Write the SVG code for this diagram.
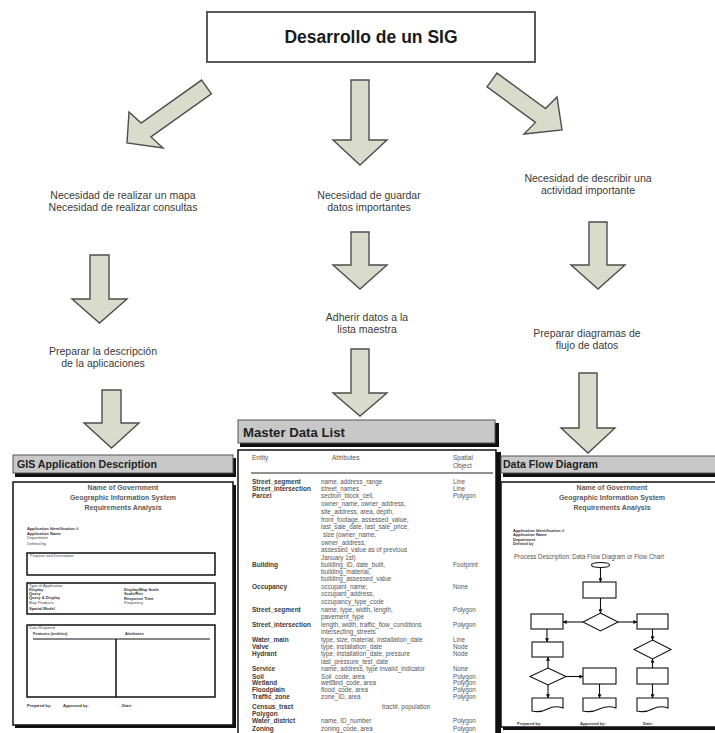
<svg xmlns="http://www.w3.org/2000/svg" width="715" height="733" viewBox="0 0 715 733">
  <style>
    .arrow { fill: #d9dccb; stroke: #4d4d4d; stroke-width: 1.4; stroke-linejoin: miter; }
    .lbl { font-family: "Liberation Sans", Arial, sans-serif; font-size: 10.5px; fill: #3a3a3a; text-anchor: middle; }
    .title { font-family: "Liberation Sans", Arial, sans-serif; font-size: 17.5px; font-weight: bold; fill: #1a1a1a; text-anchor: middle; }
    .hdr { fill: #c8c8c8; stroke: #555; stroke-width: 1; }
    .shadow { fill: #111; }
    .doc { fill: #fff; stroke: #111; stroke-width: 1.5; }
    .hdrtxt { font-family: "Liberation Sans", Arial, sans-serif; font-weight: bold; fill: #222; }
    .gov { font-family: "Liberation Sans", Arial, sans-serif; font-size: 7px; font-weight: bold; fill: #5a5a5a; text-anchor: middle; }
    .tiny { font-family: "Liberation Sans", Arial, sans-serif; font-size: 4px; fill: #444; }
    .tinyb { font-family: "Liberation Sans", Arial, sans-serif; font-size: 4px; font-weight: bold; fill: #333; }
    .box { fill: none; stroke: #111; stroke-width: 1.5; }
    .col { font-family: "Liberation Sans", Arial, sans-serif; font-size: 6.5px; fill: #555; }
    .ent { font-family: "Liberation Sans", Arial, sans-serif; font-size: 6.5px; font-weight: bold; fill: #3c3c3c; }
    .att { font-family: "Liberation Sans", Arial, sans-serif; font-size: 6.3px; fill: #555; }
    .fc { fill: #fff; stroke: #111; stroke-width: 1.1; }
    .fl { fill: none; stroke: #111; stroke-width: 1.1; marker-end: url(#ah); }
  </style>
  <defs>
    <marker id="ah" viewBox="0 0 6 6" refX="5.5" refY="3" markerWidth="4" markerHeight="4" markerUnits="userSpaceOnUse" orient="auto">
      <path d="M0,0 L6,3 L0,6 Z" fill="#111"/>
    </marker>
  </defs>

  <!-- root node -->
  <g id="root">
    <rect x="207" y="12" width="328" height="50" fill="#fff" stroke="#5a5a5a" stroke-width="2"/>
    <text class="title" x="371" y="43">Desarrollo de un SIG</text>
  </g>

  <!-- block arrows -->
  <g id="connectors">
    <polygon class="arrow" points="201.6,80.1 211.4,93.9 150.9,136.9 163,148 127,143 129,112 141.1,123.1"/>
    <polygon class="arrow" points="351,80 369,80 369,140 387,140 360,165 333,140 351,140"/>
    <polygon class="arrow" points="487,86.9 497,73.1 545.5,108.6 557,97 562,130 524,134 535.5,122.4"/>

    <polygon class="arrow" points="90,255 109,255 109,299 127,299 99.5,323 72,299 90,299"/>
    <polygon class="arrow" points="351,232 369,232 369,265 387,265 360,289 333,265 351,265"/>
    <polygon class="arrow" points="589,222 607,222 607,265 625,265 598,289 571,265 589,265"/>

    <polygon class="arrow" points="102,390 121,390 121,423 139,423 111.5,448 84,423 102,423"/>
    <polygon class="arrow" points="351,349 369,349 369,393 387,393 360,416 333,393 351,393"/>
    <polygon class="arrow" points="579,373 597,373 597,428 615,428 588,453 561,428 579,428"/>
  </g>

  <!-- step labels -->
  <g id="need-map">
    <text class="lbl" x="123" y="199">Necesidad de realizar un mapa</text>
    <text class="lbl" x="123" y="211">Necesidad de realizar consultas</text>
  </g>
  <g id="need-store">
    <text class="lbl" x="369" y="199">Necesidad de guardar</text>
    <text class="lbl" x="369" y="211">datos importantes</text>
  </g>
  <g id="need-describe">
    <text class="lbl" x="588" y="182">Necesidad de describir una</text>
    <text class="lbl" x="588" y="194">actividad importante</text>
  </g>
  <g id="prepare-description">
    <text class="lbl" x="103" y="355">Preparar la descripción</text>
    <text class="lbl" x="103" y="367">de la aplicaciones</text>
  </g>
  <g id="add-data">
    <text class="lbl" x="367" y="321">Adherir datos a la</text>
    <text class="lbl" x="367" y="333">lista maestra</text>
  </g>
  <g id="prepare-flow">
    <text class="lbl" x="587" y="337">Preparar diagramas de</text>
    <text class="lbl" x="587" y="349">flujo de datos</text>
  </g>

  <!-- GIS Application Description form -->
  <g id="gis-application">
    <rect class="shadow" x="15" y="458" width="221" height="19"/>
    <rect class="hdr" x="13" y="455" width="220" height="18"/>
    <text class="hdrtxt" x="17" y="468" font-size="10.5" textLength="140" lengthAdjust="spacingAndGlyphs">GIS Application Description</text>
    <rect class="shadow" x="15" y="485" width="221" height="243"/>
    <rect class="doc" x="13" y="482" width="220" height="243"/>
    <text class="gov" x="123" y="490">Name of Government</text>
    <text class="gov" x="123" y="500">Geographic Information System</text>
    <text class="gov" x="123" y="510">Requirements Analysis</text>
    <text class="tinyb" x="27" y="530">Application Identification #</text>
    <text class="tinyb" x="27" y="535">Application Name</text>
    <text class="tiny" x="27" y="539">Department</text>
    <text class="tiny" x="27" y="545">Defined by</text>
    <rect class="box" x="27" y="553" width="188" height="22"/>
    <text class="tiny" x="30" y="557">Purpose and Description</text>
    <rect class="box" x="27" y="583" width="188" height="31"/>
    <text class="tiny" x="29" y="587">Type of Application</text>
    <text class="tinyb" x="29" y="591">Display</text>
    <text class="tinyb" x="29" y="595">Query</text>
    <text class="tinyb" x="29" y="599">Query &amp; Display</text>
    <text class="tiny" x="29" y="603.5">Map Products</text>
    <text class="tinyb" x="29" y="610">Spatial Model</text>
    <text class="tinyb" x="124" y="591">Display/Map Scale</text>
    <text class="tinyb" x="124" y="595">Scale/Res</text>
    <text class="tinyb" x="124" y="600">Response Time</text>
    <text class="tiny" x="124" y="604">Frequency</text>
    <rect class="box" x="27" y="625" width="188" height="72"/>
    <text class="tiny" x="29" y="629">Data Required</text>
    <text class="tinyb" x="33" y="635">Features (entities)</text>
    <text class="tinyb" x="125" y="635">Attributes</text>
    <line x1="33" y1="639" x2="210" y2="639" stroke="#111" stroke-width="1"/>
    <line x1="116" y1="639" x2="116" y2="697" stroke="#111" stroke-width="1.5"/>
    <text class="tinyb" x="27" y="707">Prepared by:</text>
    <text class="tinyb" x="63" y="707">Approved by:</text>
    <text class="tinyb" x="122" y="707">Date:</text>
  </g>

  <!-- Master Data List table -->
  <g id="master-data-list">
    <rect class="shadow" x="240" y="423" width="259" height="24"/>
    <rect class="hdr" x="238" y="420" width="257" height="23"/>
    <text class="hdrtxt" x="243" y="437" font-size="13.5" textLength="102" lengthAdjust="spacingAndGlyphs">Master Data List</text>
    <rect class="shadow" x="241" y="452" width="260" height="290"/>
    <rect class="doc" x="238" y="450" width="258" height="290" stroke-width="2"/>
    <text class="col" x="252" y="460">Entity</text>
    <text class="col" x="332" y="460">Attributes</text>
    <text class="col" x="453" y="460">Spatial</text>
    <text class="col" x="453" y="468">Object</text>
    <line x1="251" y1="473" x2="493" y2="473" stroke="#222" stroke-width="1"/>

    <text class="ent" x="252" y="484">Street_segment</text>
    <text class="att" x="321" y="484">name, address_range</text>
    <text class="att" x="453" y="484">Line</text>
    <text class="ent" x="252" y="491">Street_intersection</text>
    <text class="att" x="321" y="491">street_names</text>
    <text class="att" x="453" y="491">Line</text>
    <text class="ent" x="252" y="498">Parcel</text>
    <text class="att" x="321" y="498">section_block_cell,</text>
    <text class="att" x="453" y="498">Polygon</text>
    <text class="att" x="321" y="506">owner_name, owner_address,</text>
    <text class="att" x="321" y="514">site_address, area, depth,</text>
    <text class="att" x="321" y="522">front_footage, assessed_value,</text>
    <text class="att" x="321" y="529">last_sale_date, last_sale_price,</text>
    <text class="att" x="323" y="537">size (owner_name,</text>
    <text class="att" x="321" y="545">owner_address,</text>
    <text class="att" x="321" y="552">assessed_value as of previous</text>
    <text class="att" x="321" y="560">January 1st)</text>
    <text class="ent" x="252" y="567">Building</text>
    <text class="att" x="321" y="567">building_ID, date_built,</text>
    <text class="att" x="453" y="567">Footprint</text>
    <text class="att" x="321" y="574">building_material,</text>
    <text class="att" x="321" y="581">building_assessed_value</text>
    <text class="ent" x="252" y="589">Occupancy</text>
    <text class="att" x="321" y="589">occupant_name,</text>
    <text class="att" x="453" y="589">None</text>
    <text class="att" x="321" y="596">occupant_address,</text>
    <text class="att" x="321" y="604">occupancy_type_code</text>
    <text class="ent" x="252" y="612">Street_segment</text>
    <text class="att" x="321" y="612">name, type, width, length,</text>
    <text class="att" x="453" y="612">Polygon</text>
    <text class="att" x="321" y="619">pavement_type</text>
    <text class="ent" x="252" y="627">Street_intersection</text>
    <text class="att" x="321" y="627">length, width, traffic_flow_conditions</text>
    <text class="att" x="453" y="627">Polygon</text>
    <text class="att" x="321" y="634">intersecting_streets</text>
    <text class="ent" x="252" y="642">Water_main</text>
    <text class="att" x="321" y="642">type, size, material, installation_date</text>
    <text class="att" x="453" y="642">Line</text>
    <text class="ent" x="252" y="649">Valve</text>
    <text class="att" x="321" y="649">type, installation_date</text>
    <text class="att" x="453" y="649">Node</text>
    <text class="ent" x="252" y="655.5">Hydrant</text>
    <text class="att" x="321" y="655.5">type, installation_date, pressure</text>
    <text class="att" x="453" y="655.5">Node</text>
    <text class="att" x="321" y="664">last_pressure_test_date</text>
    <text class="ent" x="252" y="671">Service</text>
    <text class="att" x="321" y="671">name, address, type invalid_indicator</text>
    <text class="att" x="453" y="671">None</text>
    <text class="ent" x="252" y="678.5">Soil</text>
    <text class="att" x="321" y="678.5">Soil_code, area</text>
    <text class="att" x="453" y="678.5">Polygon</text>
    <text class="ent" x="252" y="685">Wetland</text>
    <text class="att" x="321" y="685">wetland_code, area</text>
    <text class="att" x="453" y="685">Polygon</text>
    <text class="ent" x="252" y="692">Floodplain</text>
    <text class="att" x="321" y="692">flood_code, area</text>
    <text class="att" x="453" y="692">Polygon</text>
    <text class="ent" x="252" y="699">Traffic_zone</text>
    <text class="att" x="321" y="699">zone_ID, area</text>
    <text class="att" x="453" y="699">Polygon</text>
    <text class="ent" x="252" y="709">Census_tract</text>
    <text class="att" x="382" y="709">tract#, population</text>
    <text class="ent" x="252" y="716">Polygon</text>
    <text class="ent" x="252" y="723">Water_district</text>
    <text class="att" x="321" y="723">name, ID_number</text>
    <text class="att" x="453" y="723">Polygon</text>
    <text class="ent" x="252" y="731">Zoning</text>
    <text class="att" x="321" y="731">zoning_code, area</text>
    <text class="att" x="453" y="731">Polygon</text>
  </g>

  <!-- Data Flow Diagram form -->
  <g id="data-flow-diagram">
    <rect class="shadow" x="503" y="459" width="220" height="18"/>
    <rect class="hdr" x="501" y="456" width="220" height="17"/>
    <text class="hdrtxt" x="503" y="468" font-size="10.5" textLength="95" lengthAdjust="spacingAndGlyphs">Data Flow Diagram</text>
    <rect class="shadow" x="503" y="485" width="220" height="245"/>
    <rect class="doc" x="501" y="482" width="220" height="245"/>
    <text class="gov" x="612" y="490">Name of Government</text>
    <text class="gov" x="612" y="500">Geographic Information System</text>
    <text class="gov" x="612" y="510">Requirements Analysis</text>
    <text class="tinyb" x="513" y="532">Application Identification #</text>
    <text class="tinyb" x="513" y="536">Application Name</text>
    <text class="tinyb" x="513" y="541">Department</text>
    <text class="tinyb" x="513" y="545">Defined by</text>
    <text class="att" x="514" y="559" font-size="5.5" textLength="150" lengthAdjust="spacingAndGlyphs">Process Description: Data Flow Diagram or Flow Chart</text>

    <!-- flow chart -->
    <ellipse class="fc" cx="600.5" cy="565" rx="9" ry="2.5"/>
    <rect class="fc" x="583" y="582" width="33" height="16"/>
    <polygon class="fc" points="600.5,613 618,622 600.5,631 583,622"/>
    <rect class="fc" x="531" y="614" width="32" height="15"/>
    <rect class="fc" x="637" y="614" width="31" height="15"/>
    <rect class="fc" x="532" y="642" width="31" height="15"/>
    <polygon class="fc" points="548,668 566,676.5 548,685 530,676.5"/>
    <rect class="fc" x="583" y="668" width="33" height="16"/>
    <polygon class="fc" points="652.5,640 671,649.5 652.5,659 634,649.5"/>
    <rect class="fc" x="637" y="668" width="31" height="16"/>
    <path class="fc" d="M532,698 H563 V708 Q555,705 547.5,709 T532,711 Z"/>
    <path class="fc" d="M583,698 H616 V708 Q608,705 599.5,709 T583,711 Z"/>
    <path class="fc" d="M637,698 H668 V708 Q660,705 652.5,709 T637,711 Z"/>

    <path class="fl" d="M600.5,567.5 V582"/>
    <path class="fl" d="M600.5,598 V613"/>
    <path class="fl" d="M583,622 H563"/>
    <path class="fl" d="M618,622 H637"/>
    <path class="fl" d="M547,629 V642"/>
    <path class="fl" d="M548,668 V657"/>
    <path class="fl" d="M566,676.5 H583"/>
    <path class="fl" d="M548,685 V698"/>
    <path class="fl" d="M599.5,684 V698"/>
    <path class="fl" d="M652.5,629 V640"/>
    <path class="fl" d="M652.5,668 V659"/>
    <path class="fl" d="M652.5,684 V698"/>

    <text class="tinyb" x="517" y="725">Prepared by:</text>
    <text class="tinyb" x="580" y="725">Approved by:</text>
    <text class="tinyb" x="643" y="725">Date:</text>
  </g>
</svg>
